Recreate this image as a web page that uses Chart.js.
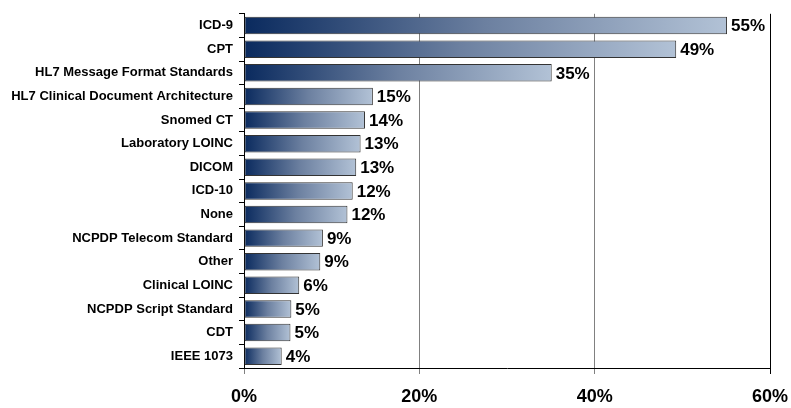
<!DOCTYPE html>
<html>
<head>
<meta charset="utf-8">
<script src="https://cdn.jsdelivr.net/npm/chart.js@4/dist/chart.umd.min.js"></script>
<style>
  body { margin: 0; background: #fff; }
  canvas { display: block; }
</style>
</head>
<body>
<canvas class="chartStandards" width="791" height="408"></canvas>
<script>
const categories = ["ICD-9", "CPT", "HL7 Message Format Standards", "HL7 Clinical Document Architecture",
  "Snomed CT", "Laboratory LOINC", "DICOM", "ICD-10", "None", "NCPDP Telecom Standard", "Other",
  "Clinical LOINC", "NCPDP Script Standard", "CDT", "IEEE 1073"];
const shares = [55.1, 49.3, 35.1, 14.7, 13.8, 13.3, 12.8, 12.4, 11.8, 9.0, 8.7, 6.3, 5.4, 5.3, 4.3];
const xTicks = [0, 20, 40, 60];

const fontFamily = "'Liberation Sans', Arial, sans-serif";

function barGradient(context) {
  var chart = context.chart;
  if (!chart.chartArea || !chart.scales.x) return "#3a5580";
  var x0 = chart.scales.x.getPixelForValue(0);
  var x1 = chart.scales.x.getPixelForValue(context.raw);
  var g = chart.ctx.createLinearGradient(x0, 0, x1, 0);
  g.addColorStop(0, "#0a2a5e");
  g.addColorStop(0.5, "#6c80a0");
  g.addColorStop(1, "#b2c2d6");
  return g;
}

// percent labels at the end of each bar
const valueLabels = {
  id: "valueLabels",
  afterDatasetsDraw(chart) {
    var ctx = chart.ctx;
    var meta = chart.getDatasetMeta(0);
    ctx.save();
    ctx.font = "bold 17px " + fontFamily;
    ctx.fillStyle = "#000";
    ctx.textBaseline = "middle";
    ctx.textAlign = "left";
    meta.data.forEach(function (bar, i) {
      ctx.fillText(Math.round(shares[i]) + "%", bar.x + 4, bar.y + 1);
    });
    ctx.restore();
  }
};

const canvas = document.querySelector(".chartStandards");
var myChart = new Chart(canvas.getContext("2d"), {
  type: "bar",
  data: {
    labels: categories,
    datasets: [{
      data: shares,
      backgroundColor: barGradient,
      borderColor: "#333",
      borderWidth: 1,
      borderSkipped: false,
      categoryPercentage: 1,
      barPercentage: 0.74
    }]
  },
  options: {
    indexAxis: "y",
    responsive: false,
    animation: false,
    layout: { padding: { top: 9, right: 21, left: 0, bottom: 0 } },
    plugins: { legend: { display: false }, tooltip: { enabled: false } },
    scales: {
      x: {
        min: 0,
        max: 60,
        afterBuildTicks: function (scale) {
          scale.ticks = xTicks.map(function (v) { return { value: v }; });
        },
        afterFit: function (scale) {
          scale.height = 40;
          scale.paddingLeft = 0;
          scale.paddingRight = 0;
        },
        border: { display: true, color: "#000", width: 1 },
        grid: {
          color: function (c) { return c.tick && c.tick.value === 60 ? "#000" : "#808080"; },
          tickLength: 6
        },
        ticks: {
          color: "#000",
          padding: 12,
          font: { family: fontFamily, size: 18, weight: "bold" },
          callback: function (v) { return v + "%"; }
        }
      },
      y: {
        afterFit: function (scale) { scale.width = 244; },
        border: { display: true, color: "#000", width: 1 },
        grid: { drawOnChartArea: false, color: "#000", tickLength: 5 },
        ticks: {
          color: "#000",
          padding: 6,
          font: { family: fontFamily, size: 13, weight: "bold" }
        }
      }
    }
  },
  plugins: [valueLabels]
});
</script>
</body>
</html>
